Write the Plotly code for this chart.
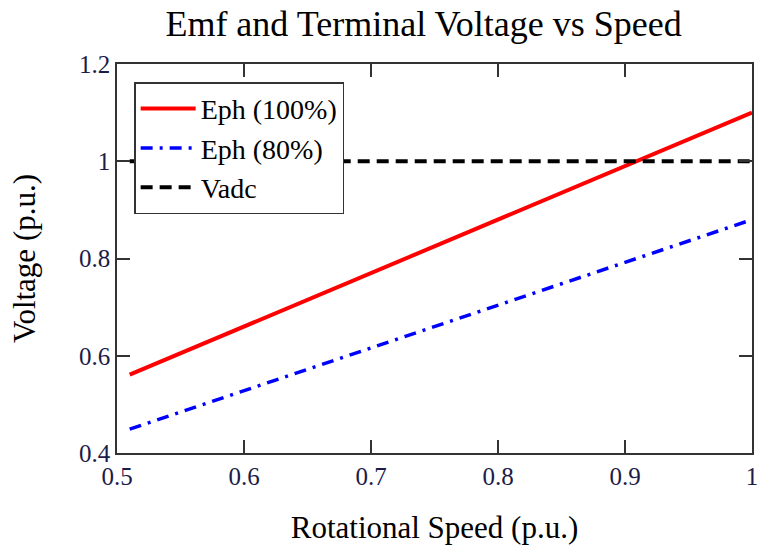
import plotly.graph_objects as go

speed = [0.51, 0.55, 0.6, 0.65, 0.7, 0.75, 0.8, 0.85, 0.9, 0.95, 1.0]
eph100 = [0.561, 0.605, 0.66, 0.715, 0.77, 0.825, 0.88, 0.935, 0.99, 1.045, 1.1]
eph80 = [0.449, 0.484, 0.528, 0.572, 0.616, 0.66, 0.704, 0.748, 0.792, 0.836, 0.88]
vadc_x = [0.51, 1.0]
vadc_y = [1.0, 1.0]

FONT = "'Liberation Serif', 'Times New Roman', serif"

fig = go.Figure()
fig.add_trace(go.Scatter(x=speed, y=eph100, mode="lines", name="Eph (100%)",
                         line=dict(color="#ff0000", width=4)))
fig.add_trace(go.Scatter(x=speed, y=eph80, mode="lines", name="Eph (80%)",
                         line=dict(color="#0000ff", width=3.5, dash="12px,7px,3px,7px")))
fig.add_trace(go.Scatter(x=vadc_x, y=vadc_y, mode="lines", name="Vadc",
                         line=dict(color="#000000", width=4, dash="12px,7px")))

axis_common = dict(showgrid=False, zeroline=False, showline=True, linecolor="#333333",
                   linewidth=1.5, mirror="ticks", ticks="inside", ticklen=13,
                   tickcolor="#333333", tickwidth=1.5,
                   tickfont=dict(family=FONT, size=25, color="#1c1c48"))

fig.update_xaxes(range=[0.5, 1.0], tickvals=[0.5, 0.6, 0.7, 0.8, 0.9, 1.0],
                 ticktext=["0.5", "0.6", "0.7", "0.8", "0.9", "1"],
                 title=dict(text="Rotational Speed (p.u.)", font=dict(family=FONT, size=31, color="#000"),
                            standoff=28),
                 **axis_common)
fig.update_yaxes(range=[0.4, 1.2], tickvals=[0.4, 0.6, 0.8, 1.0, 1.2],
                 ticktext=["0.4", "0.6", "0.8", "1", "1.2"],
                 title=dict(text="Voltage (p.u.)", font=dict(family=FONT, size=31, color="#000"),
                            standoff=34),
                 **axis_common)

fig.update_layout(
    width=766, height=548,
    margin=dict(l=117, r=8, t=64, b=95),
    paper_bgcolor="white", plot_bgcolor="white",
    title=dict(text="Emf and Terminal Voltage vs Speed", font=dict(family=FONT, size=36, color="#000"),
               xref="container", x=0.553, xanchor="center", yref="container", y=0.958, yanchor="middle"),
    legend=dict(x=0.027, y=0.953, xanchor="left", yanchor="top", bgcolor="white",
                bordercolor="#333333", borderwidth=1.5, itemwidth=55,
                font=dict(family=FONT, size=28, color="#000"), tracegroupgap=0),
    showlegend=True,
)

fig.write_html("out.html")
